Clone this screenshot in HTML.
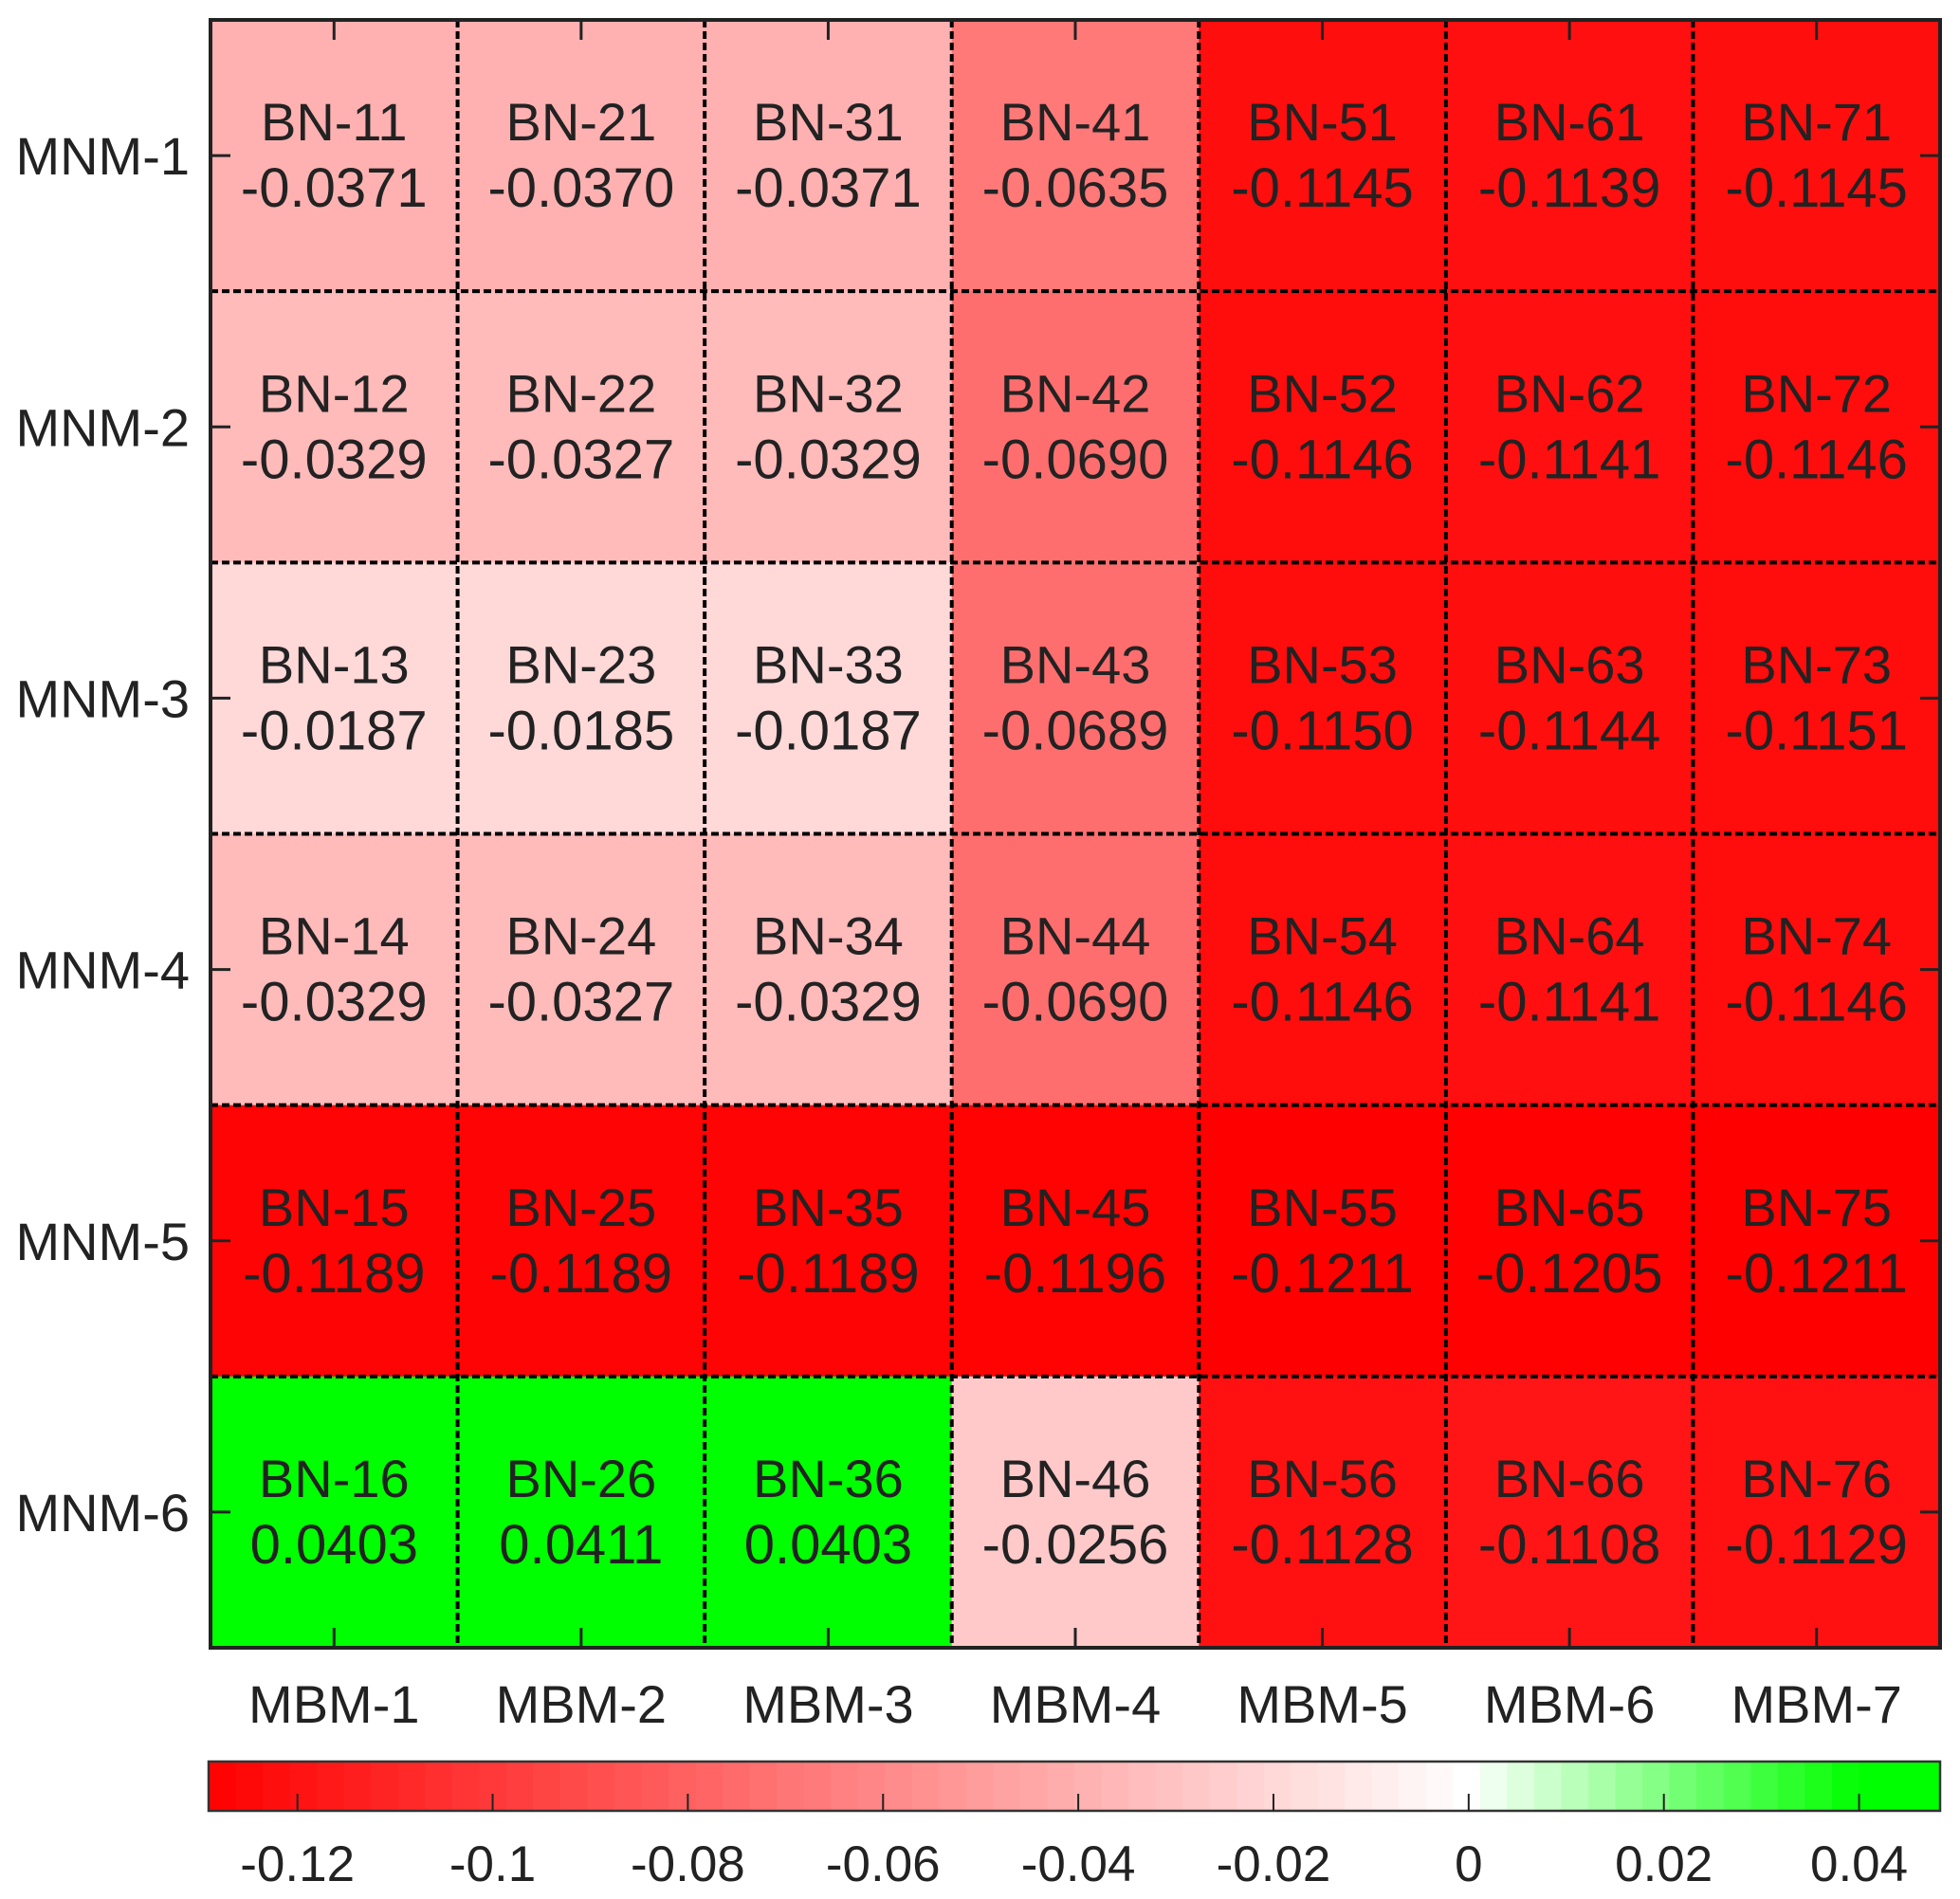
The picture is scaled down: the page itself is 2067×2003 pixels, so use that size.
<!DOCTYPE html>
<html><head><meta charset="utf-8"><style>
html,body{margin:0;padding:0;background:#fff;}
svg{display:block;font-family:"Liberation Sans",Arial,sans-serif;}
</style></head><body>
<svg id="chart" width="2067" height="2003" viewBox="0 0 2067 2003" xmlns="http://www.w3.org/2000/svg"></svg>
<script>
const colLabels = ["MBM-1","MBM-2","MBM-3","MBM-4","MBM-5","MBM-6","MBM-7"];
const rowLabels = ["MNM-1","MNM-2","MNM-3","MNM-4","MNM-5","MNM-6"];
const values = [
  [-0.0371,-0.0370,-0.0371,-0.0635,-0.1145,-0.1139,-0.1145],
  [-0.0329,-0.0327,-0.0329,-0.0690,-0.1146,-0.1141,-0.1146],
  [-0.0187,-0.0185,-0.0187,-0.0689,-0.1150,-0.1144,-0.1151],
  [-0.0329,-0.0327,-0.0329,-0.0690,-0.1146,-0.1141,-0.1146],
  [-0.1189,-0.1189,-0.1189,-0.1196,-0.1211,-0.1205,-0.1211],
  [0.0403,0.0411,0.0403,-0.0256,-0.1128,-0.1108,-0.1129]
];
const cbTicks = [-0.12,-0.1,-0.08,-0.06,-0.04,-0.02,0,0.02,0.04];
const cbTickLabels = ["-0.12","-0.1","-0.08","-0.06","-0.04","-0.02","0","0.02","0.04"];
const cbMin = -0.1291, cbMax = 0.0483;
const cellRedMin = -0.121;

const NS="http://www.w3.org/2000/svg";
const svg=document.getElementById('chart');
function mk(tag,attrs,parent){const e=document.createElementNS(NS,tag);for(const k in attrs)e.setAttribute(k,attrs[k]);(parent||svg).appendChild(e);return e;}
const L=222,R=2046,T=21,B=1738;
const nC=colLabels.length,nR=rowLabels.length;
const cw=(R-L)/nC, rh=(B-T)/nR;
const xAt=i=>L+i*cw, yAt=j=>T+j*rh;
function color(v,redMin){
  let r,g,b;
  if(v<0){const t=Math.min(1,v/redMin);const w=Math.round(255*(1-t));r=255;g=w;b=w;}
  else{const t=Math.min(1,v/0.04);const w=Math.round(255*(1-t));r=w;g=255;b=w;}
  return `rgb(${r},${g},${b})`;
}
for(let j=0;j<nR;j++)for(let i=0;i<nC;i++){
  const v=values[j][i];
  const c=mk('rect',{x:xAt(i),y:yAt(j),width:cw+0.5,height:rh+0.5,fill:color(v,cellRedMin)});
  
  
  const cx=xAt(i)+cw/2, cy=yAt(j)+rh/2;
  const t1=mk('text',{x:cx,y:cy-16,'text-anchor':'middle','font-size':56,fill:'#222'});
  t1.textContent='BN-'+(i+1)+(j+1);
  
  
  const t2=mk('text',{x:cx,y:cy+54,'text-anchor':'middle','font-size':58,fill:'#222'});
  t2.textContent=v.toFixed(4);
  
  
}
for(let i=1;i<nC;i++)mk('line',{x1:xAt(i),y1:T,x2:xAt(i),y2:B,stroke:'#000','stroke-width':4,'stroke-dasharray':'8,4'});
for(let j=1;j<nR;j++)mk('line',{x1:L,y1:yAt(j),x2:R,y2:yAt(j),stroke:'#000','stroke-width':4,'stroke-dasharray':'8,4'});
for(let i=0;i<nC;i++){
  const x=xAt(i)+cw/2;
  mk('line',{x1:x,y1:T,x2:x,y2:T+21,stroke:'#222','stroke-width':3});
  mk('line',{x1:x,y1:B,x2:x,y2:B-21,stroke:'#222','stroke-width':3});
  const t=mk('text',{x:x,y:1817,'text-anchor':'middle','font-size':56,fill:'#222'});
  t.textContent=colLabels[i];
  
  
}
for(let j=0;j<nR;j++){
  const y=yAt(j)+rh/2;
  mk('line',{x1:L,y1:y,x2:L+21,y2:y,stroke:'#222','stroke-width':3});
  mk('line',{x1:R,y1:y,x2:R-21,y2:y,stroke:'#222','stroke-width':3});
  const t=mk('text',{x:200,y:y+20,'text-anchor':'end','font-size':56,fill:'#222'});
  t.textContent=rowLabels[j];
  
  
}
mk('rect',{x:L,y:T,width:R-L,height:B-T,fill:'none',stroke:'#222','stroke-width':4});
// colorbar
const CL=220,CR=2046,CT=1858,CB=1910;
const cx=v=>CL+(v-cbMin)/(cbMax-cbMin)*(CR-CL);
const steps=64;
for(let k=0;k<steps;k++){
  const v0=cbMin+(cbMax-cbMin)*k/steps, v1=cbMin+(cbMax-cbMin)*(k+1)/steps;
  const vm=(v0+v1)/2;
  mk('rect',{x:cx(v0),y:CT,width:cx(v1)-cx(v0)+0.6,height:CB-CT,fill:color(vm,cbMin)});
}
mk('rect',{x:CL,y:CT,width:CR-CL,height:CB-CT,fill:'none',stroke:'#333','stroke-width':2.5});
for(let k=0;k<cbTicks.length;k++){
  const x=cx(cbTicks[k]);
  mk('line',{x1:x,y1:CB,x2:x,y2:CB-18,stroke:'#222','stroke-width':2});
  const t=mk('text',{x:x,y:1984,'text-anchor':'middle','font-size':53,fill:'#222'});
  t.textContent=cbTickLabels[k];
  
  
}
</script>
</body></html>
